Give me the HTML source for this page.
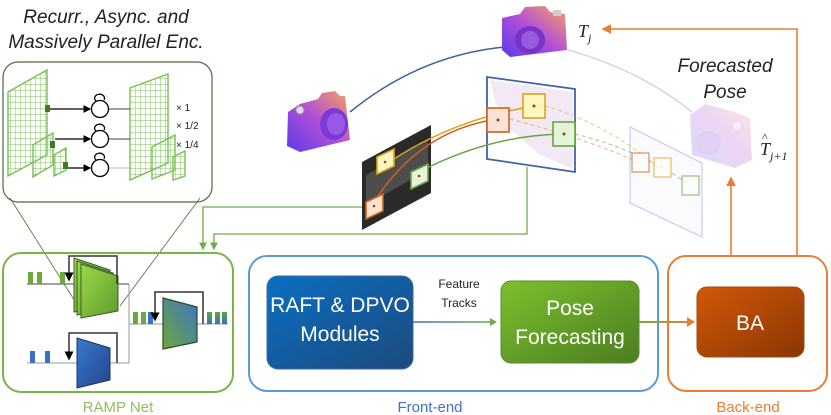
<!DOCTYPE html>
<html><head><meta charset="utf-8"><style>
html,body{margin:0;padding:0;background:#fff;}
svg{display:block;font-family:"Liberation Sans",sans-serif;}
</style></head><body>
<svg width="831" height="415" viewBox="0 0 831 415" xmlns="http://www.w3.org/2000/svg">
<defs>
<linearGradient id="gB" x1="0" y1="0" x2="1" y2="1"><stop offset="0" stop-color="#0a6fc2"/><stop offset="1" stop-color="#1d4a7e"/></linearGradient>
<linearGradient id="gG" x1="0" y1="0" x2="1" y2="1"><stop offset="0" stop-color="#7cc02c"/><stop offset="1" stop-color="#4b7d22"/></linearGradient>
<linearGradient id="gO" x1="0" y1="0" x2="1" y2="1"><stop offset="0" stop-color="#d25808"/><stop offset="1" stop-color="#8a3604"/></linearGradient>
<linearGradient id="gLG" x1="0" y1="0" x2="1" y2="1"><stop offset="0" stop-color="#9bd84a"/><stop offset="1" stop-color="#5e9c2c"/></linearGradient>
<linearGradient id="gDB" x1="0" y1="0" x2="1" y2="1"><stop offset="0" stop-color="#3a78d0"/><stop offset="1" stop-color="#22458a"/></linearGradient>
<linearGradient id="gMix" x1="0" y1="1" x2="1" y2="0"><stop offset="0" stop-color="#6aa83a"/><stop offset="1" stop-color="#3f74c8"/></linearGradient>
<linearGradient id="gBar" x1="0" y1="0" x2="0" y2="1"><stop offset="0" stop-color="#5aa83a"/><stop offset="1" stop-color="#3a70c0"/></linearGradient>
<linearGradient id="gArr1" gradientUnits="userSpaceOnUse" x1="413" y1="0" x2="497" y2="0"><stop offset="0" stop-color="#3f6fb5"/><stop offset="1" stop-color="#70ad47"/></linearGradient>
<linearGradient id="gArr2" gradientUnits="userSpaceOnUse" x1="639" y1="0" x2="695" y2="0"><stop offset="0" stop-color="#70ad47"/><stop offset="1" stop-color="#ed7d31"/></linearGradient>
<linearGradient id="cam" x1="0" y1="1" x2="1" y2="0"><stop offset="0" stop-color="#5a3be8"/><stop offset="0.5" stop-color="#b24fd8"/><stop offset="1" stop-color="#f7a45c"/></linearGradient>
<linearGradient id="camG" x1="0" y1="1" x2="1" y2="0"><stop offset="0" stop-color="#d8d4fb"/><stop offset="0.6" stop-color="#ecd2f3"/><stop offset="1" stop-color="#fbe6d6"/></linearGradient>
<pattern id="grid" width="5" height="6" patternUnits="userSpaceOnUse"><path d="M0 0H5M0 0V6" stroke="#79c054" stroke-width="0.9" fill="none"/></pattern>
<marker id="ak" markerWidth="6" markerHeight="6" refX="5" refY="3" orient="auto"><path d="M0 0L6 3L0 6z" fill="#000"/></marker>
<marker id="ag" markerWidth="6" markerHeight="6" refX="5" refY="3" orient="auto"><path d="M0 0L6 3L0 6z" fill="#70ad47"/></marker>
<marker id="ao" markerWidth="6" markerHeight="6" refX="5" refY="3" orient="auto"><path d="M0 0L6 3L0 6z" fill="#ed7d31"/></marker>
</defs>

<text x="106" y="23" font-size="19" font-style="italic" text-anchor="middle" fill="#222">Recurr., Async. and</text>
<text x="106" y="48" font-size="19" font-style="italic" text-anchor="middle" fill="#222">Massively Parallel Enc.</text>

<rect x="3" y="62" width="209" height="140" rx="15" fill="#fff" stroke="#4d6b3c" stroke-width="1.2"/>
<line x1="10" y1="198" x2="78" y2="306" stroke="#4d6b3c" stroke-width="0.8"/>
<line x1="200" y1="198" x2="120" y2="306" stroke="#4d6b3c" stroke-width="0.8"/>
<g stroke="#79c054" stroke-width="1.4">
<polygon points="8,92 47,70 47,155 8,176" fill="url(#grid)"/>
<polygon points="33,145 53,133 53,165 33,177" fill="url(#grid)"/>
<polygon points="54,155 66,148 66,170 54,176" fill="url(#grid)"/>
<polygon points="130,88 168,74 168,163 130,180" fill="url(#grid)"/>
<polygon points="152,147 175,135 175,170 152,179" fill="url(#grid)"/>
<polygon points="173,157 185,151 185,176 173,180" fill="url(#grid)"/>
</g>
<rect x="45" y="105" width="5" height="7" fill="#3f7a24"/>
<rect x="50" y="141" width="5" height="7" fill="#3f7a24"/>
<rect x="63" y="162" width="5" height="7" fill="#3f7a24"/>
<g stroke="#000" stroke-width="1.3" fill="none">
<line x1="50" y1="109" x2="90" y2="109" marker-end="url(#ak)"/>
<line x1="55" y1="139" x2="90" y2="139" marker-end="url(#ak)"/>
<line x1="68" y1="168" x2="90" y2="168" marker-end="url(#ak)"/>
<circle cx="100" cy="109" r="8.5"/><circle cx="100" cy="139" r="8.5"/><circle cx="100" cy="168" r="8.5"/>
<path d="M96 101 A5 4 0 1 1 104 100"/><path d="M96 131 A5 4 0 1 1 104 130"/><path d="M96 160 A5 4 0 1 1 104 159"/>
<line x1="109" y1="109" x2="130" y2="109" stroke-width="0.8"/>
<line x1="109" y1="139" x2="130" y2="139" stroke-width="0.8"/>
<line x1="109" y1="168" x2="130" y2="168" stroke="#999" stroke-width="0.8"/>
</g>
<text x="176" y="111" font-size="10" fill="#222">× 1</text>
<text x="176" y="129" font-size="10" fill="#222">× 1/2</text>
<text x="176" y="148" font-size="10" fill="#222">× 1/4</text>

<rect x="3" y="253" width="230" height="139" rx="18" fill="none" stroke="#78b544" stroke-width="2"/>
<text x="118" y="412" font-size="15" text-anchor="middle" fill="#8cc063">RAMP Net</text>
<g stroke="#444" stroke-width="1" fill="none">
<line x1="27" y1="284" x2="129" y2="284"/>
<line x1="27" y1="363" x2="129" y2="363" stroke="#999"/>
<line x1="129" y1="284" x2="129" y2="363" stroke="#999"/>
<line x1="129" y1="324" x2="228" y2="324" stroke="#999"/>
</g>
<g fill="#6aaa3c"><rect x="28" y="272" width="5" height="12"/><rect x="37" y="272" width="5" height="12"/><rect x="60" y="272" width="5" height="12"/>
<rect x="133" y="312" width="5" height="12"/><rect x="141" y="312" width="5" height="12"/></g>
<rect x="148" y="312" width="5" height="12" fill="#3a70c8"/>
<g fill="#3a70c8"><rect x="30" y="351" width="5" height="12"/><rect x="45" y="351" width="5" height="12"/></g>
<g fill="url(#gBar)"><rect x="207" y="312" width="5" height="12"/><rect x="215" y="312" width="5" height="12"/><rect x="222" y="312" width="5" height="12"/></g>
<g stroke="#3d5a2a" stroke-width="1">
<polygon points="74,258 110,270 110,305 74,312" fill="url(#gLG)"/>
<polygon points="77,261 113,273 113,308 77,315" fill="url(#gLG)"/>
<polygon points="81,264 118,276 118,311 81,318" fill="url(#gLG)"/>
</g>
<polygon points="77,338 110,348 110,380 77,388" fill="url(#gDB)" stroke="#1d3560" stroke-width="1"/>
<polygon points="163,298 197,307 197,342 163,349" fill="url(#gMix)" stroke="#2d4a2a" stroke-width="1.2"/>
<g stroke="#333" stroke-width="1.5" fill="none">
<path d="M117 284 V256 H69 V280" marker-end="url(#ak)"/>
<path d="M117 363 V333 H69 V359" marker-end="url(#ak)"/>
<path d="M203 324 V292 H155 V320" marker-end="url(#ak)"/>
</g>

<g stroke="#70ad47" stroke-width="1.3" fill="none">
<path d="M366 207 H203 V249" marker-end="url(#ag)"/>
<path d="M527 167 V234 H214 V249" marker-end="url(#ag)"/>
</g>

<path d="M350 112 Q420 55 505 47" stroke="#3f5f9e" stroke-width="1.5" fill="none"/>
<path d="M568 50 Q640 70 692 112" stroke="#c8d4e8" stroke-width="1.3" fill="none"/>

<!-- Camera 1 -->
<g>
<polygon points="300,104 318,99 322,93 335,91 340,96 345,96 350,140 300,152 287,146 288,112" fill="url(#cam)"/>
<circle cx="300" cy="110" r="4" fill="#ddd" stroke="#999"/>
<ellipse cx="334" cy="124" rx="14" ry="16" fill="#7a3ad8"/>
<ellipse cx="336" cy="124" rx="9" ry="11" fill="#9a5ae8"/>
</g>
<!-- Camera 2 -->
<g>
<path d="M502 18 L520 14 L525 7 L545 6 L550 12 L565 14 L567 50 L510 57 L502 50 Z" fill="url(#cam)"/>
<rect x="553" y="10" width="8" height="6" fill="#ccc"/>
<ellipse cx="530" cy="40" rx="15" ry="14" fill="#7a32c8"/>
<ellipse cx="530" cy="40" rx="9" ry="9" fill="#9a5ae0"/>
</g>
<!-- Ghost camera -->
<g opacity="0.9">
<path d="M690 115 L705 104 L735 112 L750 118 L752 160 L735 168 L692 155 Z" fill="url(#camG)"/>
<circle cx="737" cy="126" r="4" fill="#f1eefc"/>
<ellipse cx="708" cy="143" rx="13" ry="12" fill="#dccbf3"/>
</g>

<polygon points="362,162 431,125 431,193 362,230" fill="#2a2a2a"/>
<polygon points="366,175 428,140 428,170 366,205" fill="#666" opacity="0.6"/>
<polygon points="487,77 575,89 575,172 487,159" fill="#fff" stroke="#3f62a8" stroke-width="1.8"/>
<polygon points="490,80 573,92 573,169 540,155 500,120" fill="#efe4f2" opacity="0.8"/>
<polygon points="630,127 702,163 702,237 630,203" fill="#fbfbfe" stroke="#c5d4ef" stroke-width="1.3"/>

<g fill="none" stroke-width="1.5">
<path d="M385 165 Q450 120 534 106" stroke="#d9a51a"/>
<path d="M374 202 Q420 130 498 119" stroke="#d0601c"/>
<path d="M419 172 Q490 135 564 134" stroke="#6aa440"/>
</g>
<g fill="none" stroke-width="1.2" stroke-dasharray="4 3" opacity="0.6">
<path d="M545 106 Q610 125 661 170" stroke="#e0b040"/>
<path d="M575 134 Q640 150 690 185" stroke="#7cb85a"/>
<path d="M510 119 Q590 140 640 163" stroke="#e89060"/>
</g>
<g stroke-width="1.6">
<polygon points="377,157 394,149 394,166 377,174" fill="#fdf6c0" stroke="#d9a51a"/>
<polygon points="411,172 428,164 428,181 411,189" fill="#e6f4d8" stroke="#6aa440"/>
<polygon points="366,202 383,194 383,211 366,219" fill="#fde3d0" stroke="#d0601c"/>
<rect x="487" y="108" width="22" height="24" fill="#fbe3d5" stroke="#d0601c"/>
<rect x="523" y="94" width="22" height="24" fill="#fdf6c0" stroke="#d9a51a"/>
<rect x="553" y="122" width="22" height="24" fill="#e4f4d8" stroke="#6aa440"/>
</g>
<g fill="#a04010"><circle cx="498" cy="120" r="1.5"/><circle cx="534" cy="106" r="1.5"/><circle cx="564" cy="134" r="1.5"/><circle cx="385" cy="162" r="1.3"/><circle cx="419" cy="176" r="1.3"/><circle cx="374" cy="206" r="1.3"/></g>
<g stroke-width="1.2" fill="#fff" opacity="0.7">
<rect x="632" y="153" width="17" height="19" stroke="#d0601c"/>
<rect x="654" y="158" width="17" height="19" stroke="#d9a51a"/>
<rect x="682" y="176" width="17" height="19" stroke="#6aa440"/>
</g>

<text x="578" y="37" font-family="Liberation Serif,serif" font-size="18" font-style="italic" fill="#222">T<tspan font-size="12" dy="5">j</tspan></text>
<text x="725" y="72" font-size="19" font-style="italic" text-anchor="middle" fill="#222">Forecasted</text>
<text x="725" y="98" font-size="19" font-style="italic" text-anchor="middle" fill="#222">Pose</text>
<text x="760" y="155" font-family="Liberation Serif,serif" font-size="18" font-style="italic" fill="#222">T<tspan font-size="12" dy="5">j+1</tspan></text>
<text x="762" y="141" font-family="Liberation Serif,serif" font-size="12" fill="#222">^</text>

<g stroke="#ed7d31" stroke-width="1.6" fill="none">
<path d="M797 256 V29 H603" marker-end="url(#ao)"/>
<path d="M731 256 V178" marker-end="url(#ao)"/>
</g>

<rect x="249" y="256" width="409" height="135" rx="18" fill="none" stroke="#5b9bd5" stroke-width="2"/>
<text x="430" y="412" font-size="15" text-anchor="middle" fill="#4472c4">Front-end</text>
<rect x="267" y="276" width="146" height="93" rx="11" fill="url(#gB)" stroke="#3d6aa0" stroke-width="1"/>
<text x="340" y="312" font-size="21" text-anchor="middle" fill="#fff">RAFT &amp; DPVO</text>
<text x="340" y="341" font-size="21" text-anchor="middle" fill="#fff">Modules</text>
<text x="459" y="288" font-size="12" text-anchor="middle" fill="#222">Feature</text>
<text x="459" y="307" font-size="12" text-anchor="middle" fill="#222">Tracks</text>
<line x1="413" y1="322" x2="492" y2="322" stroke="url(#gArr1)" stroke-width="1.6"/>
<path d="M490 318 L497 322 L490 326 z" fill="#70ad47"/>
<rect x="501" y="281" width="138" height="82" rx="10" fill="url(#gG)" stroke="#5b8a30" stroke-width="1"/>
<text x="570" y="315" font-size="21" text-anchor="middle" fill="#fff">Pose</text>
<text x="570" y="344" font-size="21" text-anchor="middle" fill="#fff">Forecasting</text>
<line x1="639" y1="322" x2="689" y2="322" stroke="url(#gArr2)" stroke-width="2"/>
<path d="M687 317 L695 322 L687 327 z" fill="#ed7d31"/>

<rect x="668" y="256" width="159" height="135" rx="18" fill="none" stroke="#ed7d31" stroke-width="2"/>
<text x="748" y="412" font-size="15" text-anchor="middle" fill="#ed7d31">Back-end</text>
<rect x="697" y="287" width="107" height="70" rx="10" fill="url(#gO)" stroke="#a04a10" stroke-width="1"/>
<text x="750" y="330" font-size="21" text-anchor="middle" fill="#fff">BA</text>
</svg>
</body></html>
